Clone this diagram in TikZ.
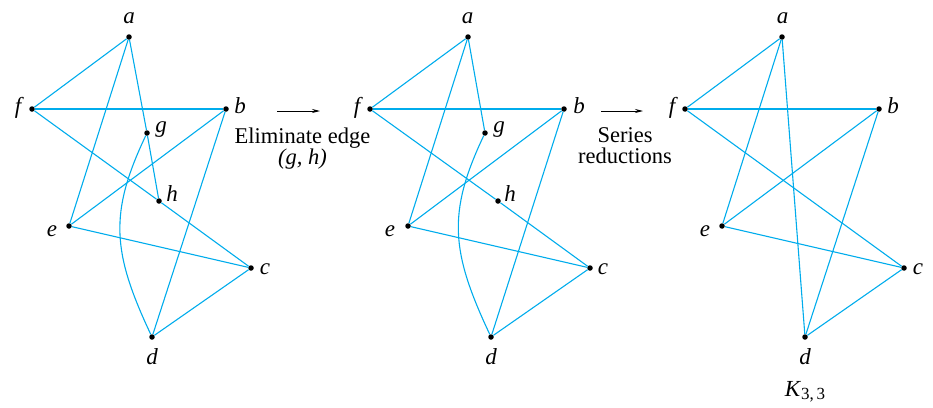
\documentclass[tikz,border=0pt]{standalone}
\usepackage{fontspec}
\setmainfont{Liberation Serif}
\usetikzlibrary{arrows.meta}
\definecolor{edgecyan}{RGB}{0,172,236}
\begin{document}
\begin{tikzpicture}[x=1pt,y=-1pt,
  vtx/.style={circle,fill=black,inner sep=0pt,minimum size=5.5pt},
  edg/.style={draw=edgecyan,line width=1.1pt},
  lbl/.style={font=\fontsize{23}{23}\selectfont\itshape,inner sep=0pt},
  txt/.style={font=\fontsize{22.5}{21}\selectfont,inner sep=0pt,align=center,anchor=north},
  arr/.style={draw=black,line width=0.9pt,-{Stealth[length=8pt,width=4pt]}}]
\useasboundingbox (0,0) rectangle (933,407);

% ---------- Graph 1 ----------
\node[vtx] (a1) at (129,37) {};
\node[vtx] (f1) at (32,109) {};
\node[vtx] (b1) at (226,109) {};
\node[vtx] (g1) at (147,133) {};
\node[vtx] (h1) at (159,201) {};
\node[vtx] (e1) at (69,226) {};
\node[vtx] (c1) at (251,268) {};
\node[vtx] (d1) at (152,337) {};
\node[lbl] (la1) at (129,18) {a};
\node[lbl] (lf1) at (18,108) {f};
\node[lbl] (lb1) at (240,106) {b};
\node[lbl] (lg1) at (161,130) {g};
\node[lbl] (lh1) at (172,194) {h};
\node[lbl] (le1) at (52,231) {e};
\node[lbl] (lc1) at (265,269) {c};
\node[lbl] (ld1) at (152,357) {d};
\draw[edg] (a1) -- (f1);
\draw[edg] (a1) -- (e1);
\draw[edg] (a1) -- (g1);
\draw[edg] (g1) -- (h1);
\draw[edg] (g1) .. controls +(-38,80) and +(-40,-85) .. (d1);
\draw[edg] (f1) -- (b1);
\draw[edg] (f1) -- (h1);
\draw[edg] (h1) -- (c1);
\draw[edg] (b1) -- (e1);
\draw[edg] (b1) -- (d1);
\draw[edg] (e1) -- (c1);
\draw[edg] (c1) -- (d1);

% ---------- Arrow 1 ----------
\coordinate (s1) at (277,111);
\coordinate (t1) at (320,111);
\draw[arr] (s1) -- (t1);
\node[txt] (el) at (302.5,127.5) {Eliminate edge\\\itshape (g, h)};

% ---------- Graph 2 ----------
\node[vtx] (a2) at (468,37) {};
\node[vtx] (f2) at (370,109) {};
\node[vtx] (b2) at (564,109) {};
\node[vtx] (g2) at (485,133) {};
\node[vtx] (h2) at (498,201) {};
\node[vtx] (e2) at (408,226) {};
\node[vtx] (c2) at (590,268) {};
\node[vtx] (d2) at (491,337) {};
\node[lbl] (la2) at (467.5,18) {a};
\node[lbl] (lf2) at (357,108) {f};
\node[lbl] (lb2) at (579,106) {b};
\node[lbl] (lg2) at (499,130) {g};
\node[lbl] (lh2) at (510,194) {h};
\node[lbl] (le2) at (390,231) {e};
\node[lbl] (lc2) at (603,269) {c};
\node[lbl] (ld2) at (491,357) {d};
\draw[edg] (a2) -- (f2);
\draw[edg] (a2) -- (e2);
\draw[edg] (a2) -- (g2);
\draw[edg] (g2) .. controls +(-38,80) and +(-40,-85) .. (d2);
\draw[edg] (f2) -- (b2);
\draw[edg] (f2) -- (h2);
\draw[edg] (h2) -- (c2);
\draw[edg] (b2) -- (e2);
\draw[edg] (b2) -- (d2);
\draw[edg] (e2) -- (c2);
\draw[edg] (c2) -- (d2);

% ---------- Arrow 2 ----------
\coordinate (s2) at (601,111);
\coordinate (t2) at (643,111);
\draw[arr] (s2) -- (t2);
\node[txt] (sr) at (625,127.5) {Series\\reductions};

% ---------- Graph 3 ----------
\node[vtx] (a3) at (782,37) {};
\node[vtx] (f3) at (685,109) {};
\node[vtx] (b3) at (879,109) {};
\node[vtx] (e3) at (722,226) {};
\node[vtx] (c3) at (904,268) {};
\node[vtx] (d3) at (805,337) {};
\node[lbl] (la3) at (782.5,18) {a};
\node[lbl] (lf3) at (672,108) {f};
\node[lbl] (lb3) at (893,106) {b};
\node[lbl] (le3) at (705,231) {e};
\node[lbl] (lc3) at (918,269) {c};
\node[lbl] (ld3) at (805,357) {d};
\draw[edg] (a3) -- (f3);
\draw[edg] (a3) -- (e3);
\draw[edg] (a3) -- (d3);
\draw[edg] (f3) -- (b3);
\draw[edg] (f3) -- (c3);
\draw[edg] (b3) -- (e3);
\draw[edg] (b3) -- (d3);
\draw[edg] (e3) -- (c3);
\draw[edg] (c3) -- (d3);
\node[lbl,font=\fontsize{23}{23}\selectfont] (k33) at (805,392)
  {\textit{K}\raisebox{-0.3ex}{\fontsize{17}{17}\selectfont 3,\,3}};
\end{tikzpicture}
\end{document}
